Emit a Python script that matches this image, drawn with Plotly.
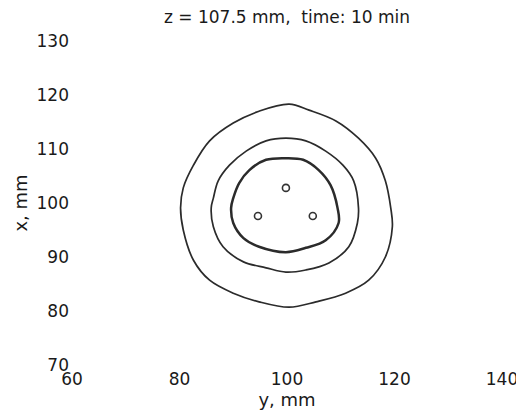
import plotly.graph_objects as go

# contour lines: (y, x) in mm, clockwise from the top
outer_y = [100.4, 104.1, 109.1, 113.3, 116.5, 118.3, 119.3, 119.6, 118.3, 115.2, 110.9, 105.4,
           100.4, 94.8, 90.0, 85.6, 82.6, 80.7, 80.2, 80.7, 82.6, 85.6, 90.0, 94.8]
outer_x = [118.3, 117.2, 115.2, 112.0, 108.3, 104.1, 99.1, 95.6, 90.0, 85.7, 83.3, 81.7,
           80.7, 81.7, 83.3, 85.7, 89.4, 95.0, 99.1, 102.8, 107.0, 111.5, 114.8, 117.0]

middle_y = [99.8, 103.5, 107.2, 110.4, 112.4, 113.3, 113.1, 111.5, 107.8, 103.5, 99.8,
            96.1, 91.9, 88.1, 86.3, 85.9, 86.3, 87.2, 89.3, 92.4, 96.1]
middle_x = [112.0, 111.5, 109.6, 107.0, 104.1, 99.1, 96.3, 91.9, 88.9, 87.6, 87.2,
            88.0, 89.1, 91.9, 95.6, 99.1, 100.9, 104.1, 107.0, 109.6, 111.5]

inner_y = [99.8, 103.0, 105.9, 108.1, 109.4, 109.6, 107.2, 103.5, 99.8,
           94.8, 91.9, 90.0, 89.6, 90.0, 91.1, 93.0, 96.1]
inner_x = [108.3, 108.0, 106.1, 103.3, 99.1, 96.3, 93.1, 91.7, 90.9,
           91.9, 93.5, 96.3, 99.1, 100.9, 103.7, 106.1, 108.0]

# source positions
src_y = [99.8, 94.6, 104.8]
src_x = [102.8, 97.6, 97.6]

x_ticks = [60, 80, 100, 120, 140]
y_ticks = [70, 80, 90, 100, 110, 120, 130]

FONT = "DejaVu Sans, Verdana, sans-serif"
INK = "#1a1a1a"


def closed(a):
    return list(a) + [a[0]]


fig = go.Figure()
for ys, xs, w in [(outer_y, outer_x, 1.7), (middle_y, middle_x, 1.7), (inner_y, inner_x, 2.5)]:
    fig.add_trace(go.Scatter(
        x=closed(ys), y=closed(xs), mode="lines",
        line=dict(color="#2b2b2b", width=w, shape="spline", smoothing=1.0),
        hoverinfo="skip", showlegend=False))

fig.add_trace(go.Scatter(
    x=src_y, y=src_x, mode="markers",
    marker=dict(symbol="circle-open", size=7, color="#333333", line=dict(width=1.6)),
    hoverinfo="skip", showlegend=False))

fig.update_layout(
    width=524, height=411,
    margin=dict(l=62, r=30, t=33, b=54),
    paper_bgcolor="white", plot_bgcolor="white",
    font=dict(family=FONT, size=17, color=INK),
    title=dict(text="z = 107.5 mm,  time: 10 min", x=0.5, xref="paper",
               y=0.979, yref="container", yanchor="middle",
               font=dict(family=FONT, size=17, color=INK)),
    xaxis=dict(range=[60, 140], tickvals=x_ticks, showgrid=False, zeroline=False,
               showline=False, ticks="", tickfont=dict(size=17), ticklabelstandoff=2,
               title=dict(text="y, mm", standoff=1, font=dict(size=18))),
    yaxis=dict(range=[70, 130], tickvals=y_ticks, showgrid=False, zeroline=False,
               showline=False, ticks="", tickfont=dict(size=17), ticklabelstandoff=2,
               title=dict(text="x, mm", standoff=4, font=dict(size=18))),
)

fig.write_html("out.html")
